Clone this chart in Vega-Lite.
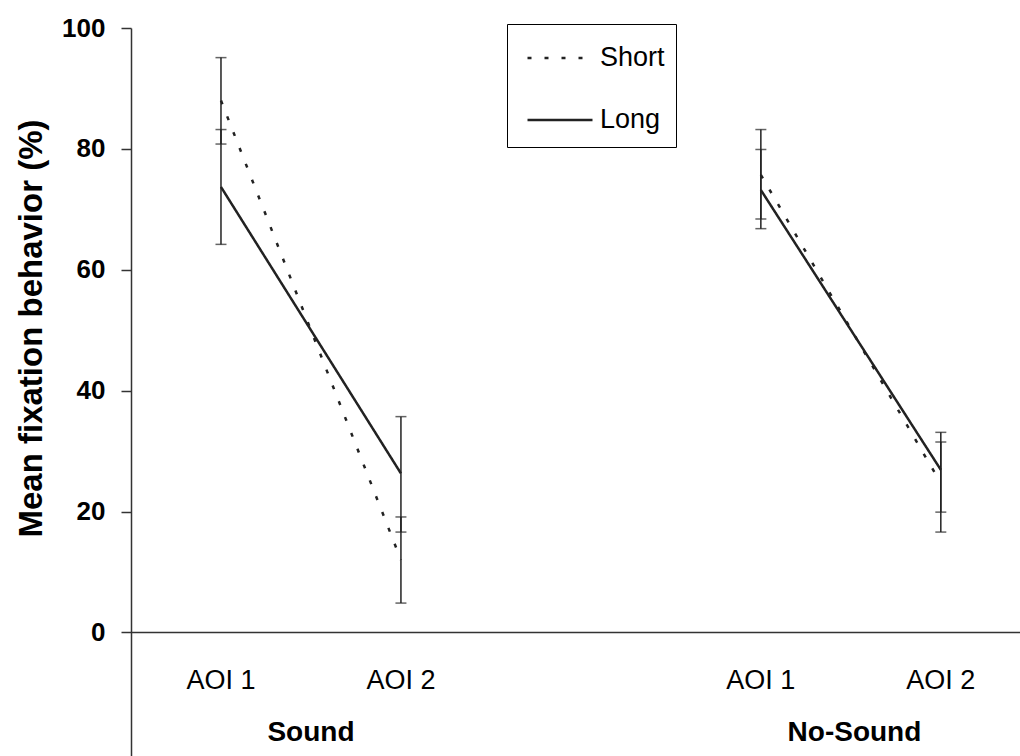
{
  "$schema": "https://vega.github.io/schema/vega-lite/v6.json",
  "width": 889,
  "height": 728,
  "autosize": {"type": "none"},
  "padding": {"left": 131, "top": 28, "right": 0, "bottom": 0},
  "background": "white",
  "config": {
    "view": {"stroke": null},
    "font": "Liberation Sans"
  },
  "datasets": {
    "means": [
      {"cond": "Sound", "aoi": "AOI 1", "pos": 1, "series": "Short", "mean": 88.0, "lo": 80.8, "hi": 95.1},
      {"cond": "Sound", "aoi": "AOI 1", "pos": 1, "series": "Long", "mean": 73.7, "lo": 64.2, "hi": 83.2},
      {"cond": "Sound", "aoi": "AOI 2", "pos": 2, "series": "Short", "mean": 12.0, "lo": 4.85, "hi": 19.1},
      {"cond": "Sound", "aoi": "AOI 2", "pos": 2, "series": "Long", "mean": 26.3, "lo": 16.6, "hi": 35.7},
      {"cond": "No-Sound", "aoi": "AOI 1", "pos": 4, "series": "Short", "mean": 75.7, "lo": 68.4, "hi": 83.2},
      {"cond": "No-Sound", "aoi": "AOI 1", "pos": 4, "series": "Long", "mean": 73.2, "lo": 66.8, "hi": 79.9},
      {"cond": "No-Sound", "aoi": "AOI 2", "pos": 5, "series": "Short", "mean": 24.7, "lo": 16.6, "hi": 31.5},
      {"cond": "No-Sound", "aoi": "AOI 2", "pos": 5, "series": "Long", "mean": 26.9, "lo": 19.9, "hi": 33.1}
    ],
    "aoiLabels": [
      {"pos": 1, "label": "AOI 1"},
      {"pos": 2, "label": "AOI 2"},
      {"pos": 4, "label": "AOI 1"},
      {"pos": 5, "label": "AOI 2"}
    ],
    "groupLabels": [
      {"pos": 1.5, "label": "Sound"},
      {"pos": 4.52, "label": "No-Sound"}
    ]
  },
  "layer": [
    {
      "data": {"values": [{}]},
      "mark": {"type": "rule", "color": "#333", "strokeWidth": 1.5},
      "encoding": {"y": {"datum": 0, "type": "quantitative", "scale": {"domain": [-20.45, 100], "nice": false, "zero": false}}}
    },
    {
      "data": {"name": "means"},
      "mark": {"type": "rule", "color": "#222", "strokeWidth": 1.5},
      "encoding": {
        "x": {"field": "pos", "type": "quantitative", "scale": {"domain": [0.5, 5.44], "nice": false, "zero": false}, "axis": null},
        "y": {"field": "lo", "type": "quantitative"},
        "y2": {"field": "hi"}
      }
    },
    {
      "data": {"name": "means"},
      "mark": {"type": "tick", "orient": "horizontal", "color": "#222", "size": 11, "thickness": 1.5},
      "encoding": {
        "x": {"field": "pos", "type": "quantitative"},
        "y": {"field": "lo", "type": "quantitative"}
      }
    },
    {
      "data": {"name": "means"},
      "mark": {"type": "tick", "orient": "horizontal", "color": "#222", "size": 11, "thickness": 1.5},
      "encoding": {
        "x": {"field": "pos", "type": "quantitative"},
        "y": {"field": "hi", "type": "quantitative"}
      }
    },
    {
      "data": {"name": "means"},
      "mark": {"type": "line", "color": "#222", "strokeWidth": 2.5},
      "encoding": {
        "x": {"field": "pos", "type": "quantitative"},
        "y": {
          "field": "mean", "type": "quantitative",
          "axis": {
            "values": [0, 20, 40, 60, 80, 100],
            "grid": false,
            "domainColor": "#333", "domainWidth": 1.5,
            "tickColor": "#333", "tickWidth": 1.5, "tickSize": 10,
            "labelFontSize": 26, "labelFontWeight": "bold", "labelColor": "black", "labelPadding": 16, "labelFont": "Liberation Sans",
            "title": "Mean fixation behavior (%)",
            "titleFontSize": 33, "titleFontWeight": "bold", "titleColor": "black", "titleFont": "Liberation Sans",
            "titleX": -90, "titleY": 300, "titleAngle": -90, "titleAlign": "center", "titleBaseline": "alphabetic"
          }
        },
        "detail": {"field": "cond"},
        "strokeDash": {
          "field": "series", "type": "nominal",
          "scale": {"domain": ["Short", "Long"], "range": [[4, 13], [1, 0]]},
          "legend": {
            "orient": "none", "legendX": 376, "legendY": -4,
            "title": "\u00a0", "titleOrient": "right", "titlePadding": 11, "titleFontSize": 14,
            "titleAnchor": "end", "titleBaseline": "top",
            "symbolType": "stroke", "symbolSize": 4225, "symbolStrokeWidth": 2.5, "symbolStrokeColor": "#222", "symbolOffset": 19,
            "labelFontSize": 27, "labelFont": "Liberation Sans", "labelColor": "black", "labelOffset": 6, "labelLimit": 0,
            "padding": 0, "rowPadding": 15, "strokeColor": "black", "fillColor": "white"
          }
        }
      }
    },
    {
      "data": {"name": "aoiLabels"},
      "mark": {"type": "text", "fontSize": 27, "color": "black", "baseline": "middle", "align": "center"},
      "encoding": {
        "x": {"field": "pos", "type": "quantitative"},
        "y": {"datum": -8},
        "text": {"field": "label"}
      }
    },
    {
      "data": {"name": "groupLabels"},
      "mark": {"type": "text", "fontSize": 28, "fontWeight": "bold", "color": "black", "baseline": "middle", "align": "center"},
      "encoding": {
        "x": {"field": "pos", "type": "quantitative"},
        "y": {"datum": -16.6},
        "text": {"field": "label"}
      }
    }
  ]
}
